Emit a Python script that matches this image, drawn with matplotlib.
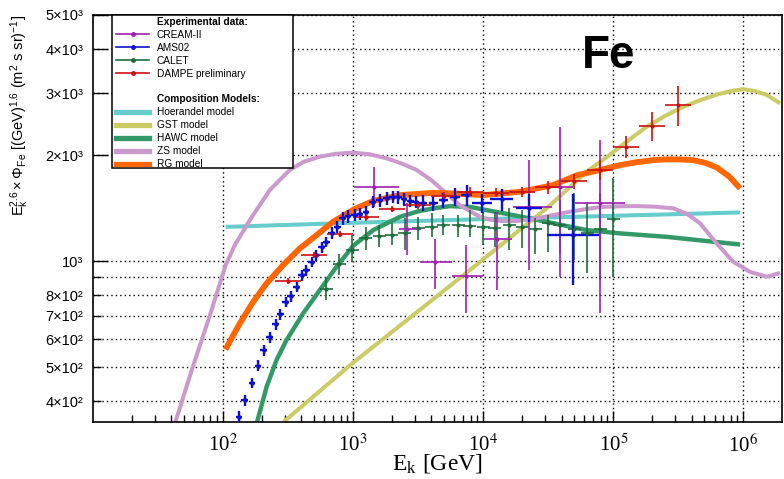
import numpy as np
import matplotlib
matplotlib.use("Agg")
import matplotlib.pyplot as plt
from matplotlib.lines import Line2D
from matplotlib.patches import Rectangle
from matplotlib.ticker import FixedLocator, FixedFormatter

plt.rcParams['mathtext.fontset'] = 'custom'
plt.rcParams['mathtext.rm'] = 'Liberation Sans'
plt.rcParams['mathtext.it'] = 'Liberation Sans:italic'
plt.rcParams['mathtext.bf'] = 'Liberation Sans:bold'
plt.rcParams['font.family'] = ['Liberation Sans', 'DejaVu Sans']

# ---------------- data (log10 of E in GeV, flux E^2.6 * Phi) ----------------
# CREAM-II
cream_logE = [3.160, 3.415, 3.628, 3.867, 4.108, 4.354, 4.590, 4.898]
cream_F = [1626, 1231, 995, 906, 1159, 1426, 1626, 1459]
cream_lo = [1426, 1040, 836, 711, 828, 943, 902, 713]
cream_hi = [1854, 1459, 1153, 1110, 1381, 1936, 2410, 2215]
cream_Elo = [3.005, 3.354, 3.513, 3.757, 4.000, 4.231, 4.475, 4.705]
cream_Ehi = [3.354, 3.520, 3.757, 3.995, 4.218, 4.526, 4.690, 5.090]

# AMS02
ams_logE = [2.122, 2.167, 2.223, 2.269, 2.313, 2.359, 2.403, 2.441, 2.482, 2.521,
            2.565, 2.603, 2.641, 2.680, 2.718, 2.757, 2.795, 2.834, 2.877, 2.920,
            2.960, 3.013, 3.052, 3.098, 3.149, 3.205, 3.257, 3.303, 3.346, 3.390,
            3.440, 3.480, 3.539, 3.615, 3.692, 3.783, 3.872, 3.988, 4.142, 4.350,
            4.688]
ams_F = [362, 403, 451, 505, 558, 607, 661, 707, 766, 795,
         845, 912, 943, 995, 1040, 1094, 1135, 1203, 1251, 1322,
         1340, 1351, 1361, 1375, 1473, 1489, 1507, 1524, 1517, 1497,
         1483, 1473, 1465, 1459, 1490, 1524, 1540, 1459, 1497, 1420,
         1186]
ams_rel_lo = [0.035, 0.035, 0.035, 0.035, 0.035, 0.035, 0.035, 0.035, 0.035, 0.035,
              0.035, 0.035, 0.035, 0.035, 0.035, 0.035, 0.035, 0.04, 0.04, 0.04,
              0.04, 0.04, 0.04, 0.04, 0.04, 0.04, 0.04, 0.04, 0.04, 0.04,
              0.04, 0.04, 0.05, 0.05, 0.05, 0.06, 0.07, 0.06, 0.07, 0.09,
              0.28]
ams_rel_hi = [0.035, 0.035, 0.035, 0.035, 0.035, 0.035, 0.035, 0.035, 0.035, 0.035,
              0.035, 0.035, 0.035, 0.035, 0.035, 0.035, 0.035, 0.04, 0.04, 0.04,
              0.04, 0.04, 0.04, 0.04, 0.04, 0.04, 0.04, 0.04, 0.04, 0.04,
              0.04, 0.04, 0.05, 0.05, 0.05, 0.06, 0.07, 0.06, 0.07, 0.09,
              0.31]
ams_dex = [0.026, 0.026, 0.026, 0.026, 0.026, 0.026, 0.026, 0.026, 0.026, 0.026,
           0.026, 0.026, 0.026, 0.026, 0.026, 0.026, 0.026, 0.026, 0.026, 0.026,
           0.026, 0.026, 0.026, 0.026, 0.026, 0.026, 0.026, 0.026, 0.026, 0.026,
           0.026, 0.026, 0.03, 0.035, 0.035, 0.04, 0.045, 0.077, 0.09, 0.10,
           0.20]

# CALET
calet_logE = [2.795, 2.892, 2.992, 3.098, 3.200, 3.295, 3.397, 3.500, 3.603, 3.692,
              3.808, 3.898, 4.000, 4.090, 4.200, 4.300, 4.400, 4.500, 4.590, 4.700,
              4.800, 4.900, 5.000]
calet_F = [836, 979, 1075, 1160, 1178, 1186, 1199, 1239, 1251, 1265,
           1265, 1255, 1247, 1239, 1265, 1251, 1230, 1280, 1265, 1230,
           1199, 1230, 1314]
calet_lo = [778, 912, 995, 1075, 1098, 1110, 1075, 1147, 1172, 1186,
            1172, 1172, 1110, 1098, 1075, 1087, 1051, 1063, 1051, 1006,
            923, 884, 902]
calet_hi = [900, 1050, 1186, 1251, 1265, 1280, 1322, 1336, 1370, 1351,
            1351, 1396, 1381, 1381, 1412, 1396, 1322, 1351, 1489, 1557,
            1473, 1557, 1718]
calet_dex = [0.05, 0.05, 0.05, 0.05, 0.05, 0.05, 0.05, 0.05, 0.05, 0.05,
             0.05, 0.05, 0.05, 0.05, 0.05, 0.05, 0.05, 0.05, 0.05, 0.05,
             0.05, 0.05, 0.05]

# DAMPE preliminary
dampe_logE = [2.5, 2.7, 2.9, 3.1, 3.3, 3.5, 3.7, 3.9, 4.1, 4.3, 4.5, 4.7, 4.9, 5.1, 5.3, 5.5]
dampe_F = [879, 1040, 1193, 1331, 1403, 1442, 1530, 1574, 1563, 1574, 1619, 1686, 1814, 2113, 2421, 2773]
dampe_rel = [0.02, 0.02, 0.02, 0.02, 0.02, 0.025, 0.025, 0.03, 0.03, 0.035, 0.04, 0.05, 0.065, 0.072, 0.095, 0.13]
dampe_dex = [0.1, 0.1, 0.1, 0.1, 0.1, 0.1, 0.1, 0.1, 0.1, 0.1, 0.1, 0.1, 0.1, 0.1, 0.1, 0.1]

# Models
hoer_logE = [2.02, 3.0, 4.0, 5.0, 5.975]
hoer_F = [1251, 1285, 1316, 1345, 1375]

gst_logE = [2.467, 3.0, 3.5, 4.0, 4.5, 4.8, 4.95, 5.1, 5.25, 5.411, 5.54, 5.667,
            5.8, 5.923, 6.0, 6.09, 6.18, 6.282]
gst_F = [350, 515, 721, 1012, 1426, 1800, 1975, 2180, 2400, 2600, 2745, 2865,
         2975, 3050, 3077, 3040, 2965, 2806]

hawc_logE = [2.262, 2.334, 2.411, 2.488, 2.615, 2.744, 2.872, 3.0, 3.154, 3.359,
             3.5, 3.615, 3.744, 3.9, 4.026, 4.231, 4.488, 4.795, 5.052, 5.411, 5.975]
hawc_F = [350, 439, 524, 597, 710, 828, 964, 1105, 1225, 1336,
          1385, 1412, 1433, 1425, 1396, 1351, 1293, 1225, 1199, 1172, 1115]

zs_logE = [1.634, 1.767, 1.895, 2.02, 2.09, 2.205, 2.359, 2.513, 2.62, 2.744,
           2.87, 3.005, 3.13, 3.257, 3.37, 3.488, 3.6, 3.718, 3.821, 3.975,
           4.05, 4.128, 4.257, 4.41, 4.53, 4.667, 4.8, 4.923, 5.05, 5.18,
           5.32, 5.462, 5.57, 5.667, 5.795, 5.923, 6.052, 6.18, 6.282]
zs_F = [350, 501, 695, 975, 1110, 1307, 1592, 1815, 1915, 1980,
        2018, 2033, 2010, 1959, 1895, 1815, 1700, 1556, 1440, 1336,
        1312, 1301, 1300, 1322, 1350, 1381, 1408, 1426, 1432, 1433,
        1428, 1412, 1360, 1280, 1122, 995, 932, 903, 926]

rg_logE = [2.018, 2.128, 2.231, 2.334, 2.462, 2.59, 2.718, 2.846, 3.006, 3.154,
           3.359, 3.615, 3.8, 4.0, 4.282, 4.538, 4.72, 4.9, 5.052, 5.18, 5.308,
           5.411, 5.5, 5.615, 5.71, 5.795, 5.89, 5.975]
rg_F = [561, 665, 766, 864, 975, 1087, 1185, 1294, 1403, 1483,
        1540, 1563, 1555, 1540, 1574, 1644, 1754, 1815, 1874, 1910, 1936,
        1945, 1945, 1936, 1900, 1845, 1740, 1609]

x_tick_labels = ['10$^{2}$', '10$^{3}$', '10$^{4}$', '10$^{5}$', '10$^{6}$']
y_major_labels = ['10³', '2×10³', '3×10³', '4×10³', '5×10³']
y_minor_labels = ['4×10²', '5×10²', '6×10²', '7×10²', '8×10²', '']

# ---------------- figure ----------------
W, H = 784, 479
fig = plt.figure(figsize=(W / 100, H / 100), dpi=100)
ax_l, ax_r, ax_t, ax_b = 93, 781.7, 15, 421.7
ax = fig.add_axes([ax_l / W, 1 - ax_b / H, (ax_r - ax_l) / W, (ax_b - ax_t) / H])
ax.set_xscale('log')
ax.set_yscale('log')
ax.set_xlim(10, 1.97e6)
ax.set_ylim(350, 5000)

c_cream = '#a020b0'
c_ams = '#1010d0'
c_calet = '#1e6e3c'
c_dampe = '#cc1111'
c_hoer = '#66cccc'
c_gst = '#cccc66'
c_hawc = '#339966'
c_zs = '#cc99cc'
c_rg = '#ff6600'

models = [
    (hoer_logE, hoer_F, c_hoer, 2.9),
    (gst_logE, gst_F, c_gst, 2.9),
    (hawc_logE, hawc_F, c_hawc, 3.2),
    (zs_logE, zs_F, c_zs, 2.9),
    (rg_logE, rg_F, c_rg, 4.2),
]
for lx, fy, col, lw in models:
    ax.plot(10 ** np.array(lx), fy, color=col, lw=lw, solid_capstyle='butt',
            solid_joinstyle='round', zorder=2)


def draw_points(logE, F, lo, hi, xlo_log, xhi_log, col, elw, ms):
    logE = np.array(logE)
    E = 10 ** logE
    F = np.array(F, dtype=float)
    xerr = [E - 10 ** np.array(xlo_log), 10 ** np.array(xhi_log) - E]
    yerr = [F - np.array(lo), np.array(hi) - F]
    ax.errorbar(E, F, xerr=xerr, yerr=yerr, fmt='o', ms=ms, color=col,
                ecolor=col, elinewidth=elw, capsize=0, zorder=3, mew=0)


draw_points(calet_logE, calet_F, calet_lo, calet_hi,
            np.array(calet_logE) - np.array(calet_dex),
            np.array(calet_logE) + np.array(calet_dex), c_calet, 1.2, 3)
draw_points(cream_logE, cream_F, cream_lo, cream_hi, cream_Elo, cream_Ehi,
            c_cream, 1.2, 3)
aF = np.array(ams_F, dtype=float)
draw_points(ams_logE, ams_F, aF * (1 - np.array(ams_rel_lo)), aF * (1 + np.array(ams_rel_hi)),
            np.array(ams_logE) - np.array(ams_dex), np.array(ams_logE) + np.array(ams_dex),
            c_ams, 1.7, 3.2)
dF = np.array(dampe_F, dtype=float)
draw_points(dampe_logE, dampe_F, dF * (1 - np.array(dampe_rel)), dF * (1 + np.array(dampe_rel)),
            np.array(dampe_logE) - np.array(dampe_dex), np.array(dampe_logE) + np.array(dampe_dex),
            c_dampe, 1.2, 3)

# ---------------- axes styling ----------------
ax.xaxis.set_major_locator(FixedLocator([1e2, 1e3, 1e4, 1e5, 1e6]))
ax.xaxis.set_major_formatter(FixedFormatter(x_tick_labels))
xminor = [m * 10 ** d for d in range(1, 7) for m in range(2, 10) if m * 10 ** d < 1.97e6]
ax.xaxis.set_minor_locator(FixedLocator(xminor))
ax.xaxis.set_minor_formatter(FixedFormatter([''] * len(xminor)))

ax.yaxis.set_major_locator(FixedLocator([1000, 2000, 3000, 4000, 5000]))
ax.yaxis.set_major_formatter(FixedFormatter(y_major_labels))
ax.yaxis.set_minor_locator(FixedLocator([400, 500, 600, 700, 800, 900]))
ax.yaxis.set_minor_formatter(FixedFormatter(y_minor_labels))

ax.tick_params(axis='x', which='major', direction='in', length=8, width=1.0,
               labelsize=15, pad=9, top=False, labelfontfamily='Liberation Serif')
ax.tick_params(axis='x', which='minor', direction='in', length=4.8, width=1.0, top=False)
ax.tick_params(axis='y', which='major', direction='in', length=11, width=1.0,
               labelsize=10.5, pad=7, right=False)
ax.tick_params(axis='y', which='minor', direction='in', length=6, width=1.0,
               labelsize=10.5, pad=7, right=False)

gkw = dict(color='black', lw=1.0, ls=(0, (1, 2.2)))
ax.grid(which='major', axis='both', **gkw)
ax.grid(which='minor', axis='y', **gkw)
ax.set_axisbelow(True)
for s in ax.spines.values():
    s.set_linewidth(1.2)

ax.set_xlabel(r'E$_\mathregular{k}$ [GeV]', fontsize=17, family='Liberation Serif',
              math_fontfamily='stix')
ax.xaxis.set_label_coords(0.5, -0.075)
ax.set_ylabel(r'$\mathregular{E_{k}^{2.6} \times \Phi_{Fe}\ [(GeV)^{1.6}\ (m^{2}\ s\ sr)^{-1}]}$',
              fontsize=10.5, loc='top')
ax.yaxis.set_label_coords(-0.09, 1.0)

ax.text((582 - ax_l) / (ax_r - ax_l), (ax_b - 68) / (ax_b - ax_t), 'Fe',
        transform=ax.transAxes, fontsize=33, fontweight='bold', va='baseline',
        family='Liberation Sans')

# ---------------- legend ----------------
def blank():
    return Line2D([], [], visible=False)

handles = [
    blank(),
    Line2D([0], [0], color=c_cream, lw=1.2, marker='o', ms=2.5),
    Line2D([0], [0], color=c_ams, lw=1.2, marker='o', ms=2.5),
    Line2D([0], [0], color=c_calet, lw=1.2, marker='o', ms=2.5),
    Line2D([0], [0], color=c_dampe, lw=1.2, marker='o', ms=2.5),
    blank(),
    blank(),
    Line2D([0], [0], color=c_hoer, lw=3.8),
    Line2D([0], [0], color=c_gst, lw=3.8),
    Line2D([0], [0], color=c_hawc, lw=3.8),
    Line2D([0], [0], color=c_zs, lw=3.8),
    Line2D([0], [0], color=c_rg, lw=3.8),
]
labels = ['Experimental data:', 'CREAM-II', 'AMS02', 'CALET', 'DAMPE preliminary', ' ',
          'Composition Models:', 'Hoerandel model', 'GST model', 'HAWC model', 'ZS model', 'RG model']
leg = ax.legend(handles, labels, loc='upper left',
                bbox_to_anchor=(114 / W, 1 - 15 / H), bbox_transform=fig.transFigure,
                frameon=False, fontsize=7.3, handlelength=3.3, handletextpad=0.75,
                labelspacing=0.29, borderpad=0.18, borderaxespad=0)
leg.set_zorder(6)
for i in (0, 6):
    leg.get_texts()[i].set_fontweight('bold')

box = Rectangle((112 / W, 1 - 168 / H), (293 - 112) / W, (168 - 15) / H,
                transform=fig.transFigure, facecolor='white', edgecolor='black',
                lw=1.1, zorder=5, clip_on=False)
ax.add_patch(box)

fig.canvas.draw()
for t in ax.get_xticklabels():
    t.set_math_fontfamily('stix')
    t.set_family('Liberation Serif')

fig.savefig('out.png', dpi=100)
